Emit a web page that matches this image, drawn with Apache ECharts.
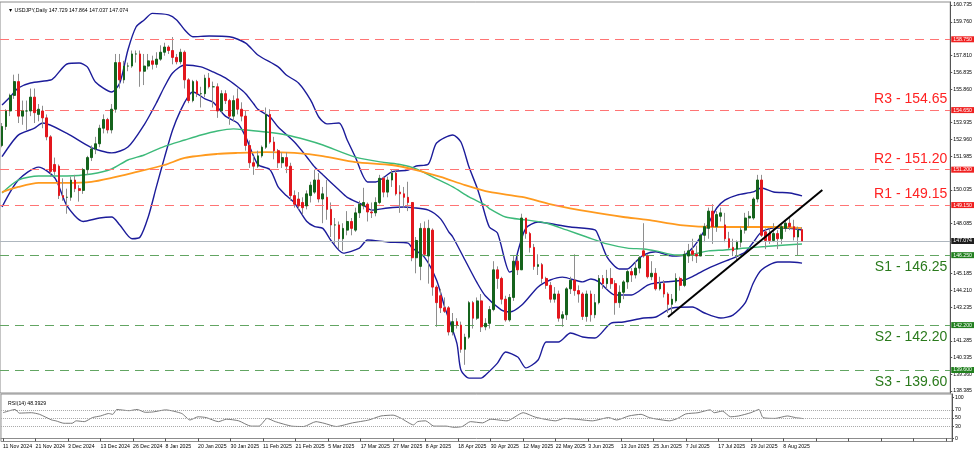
<!DOCTYPE html>
<html><head><meta charset="utf-8">
<script src="https://cdn.jsdelivr.net/npm/echarts@6/dist/echarts.min.js"></script>
<style>html,body{margin:0;padding:0;background:#fff}#c{width:975px;height:452px}</style>
</head><body><div id="c"></div><script>
// ---------- DATA ----------
const firstDay = '2024-11-11';
const holidays = ['2024-12-25', '2025-01-01'];
const barCount = 198;
const slotCount = 234;
// [open, close, low, high]
const ohlc = [
[152.6,153.7,152.5,153.9],[153.7,154.6,153.5,154.7],[154.6,155.5,154.3,155.6],[155.5,156.3,155.3,156.7],[156.3,154.3,153.9,156.75],
[154.3,154.6,153.8,155.2],[154.6,154.6,153.5,155.2],[154.6,155.4,154.3,155.9],[155.4,154.5,153.9,155.9],[154.4,154.7,154.0,155.0],
[154.6,154.2,153.6,154.9],[154.2,153.1,152.9,154.4],[153.1,151.1,150.8,153.2],[151.5,151.1,150.9,151.9],[151.4,149.7,149.5,151.5],
[149.7,149.6,149.4,150.7],[149.6,149.6,148.65,150.1],[149.6,150.6,149.4,150.8],[150.6,150.1,149.9,150.9],[150.1,150.0,149.35,150.3],
[150.0,151.2,149.8,151.3],[151.2,151.9,150.9,152.0],[151.9,152.4,151.7,152.6],[152.4,152.7,152.1,153.1],[152.7,153.6,152.5,153.8],
[153.6,154.1,153.3,154.4],[154.1,153.5,153.3,154.2],[153.5,154.7,153.3,155.0],[154.7,157.4,154.5,157.9],[157.4,156.4,155.9,157.9],
[156.4,157.2,156.2,157.5],[157.2,157.2,156.9,157.4],[157.2,157.9,157.1,158.1],[157.9,157.9,157.4,158.1],[157.9,156.9,156.0,158.1],
[156.9,157.2,156.1,157.9],[157.2,157.5,157.0,157.9],[157.5,157.3,157.0,157.8],[157.3,157.6,157.1,158.0],[157.6,158.0,157.5,158.4],
[158.0,158.3,157.8,158.55],[158.3,158.1,157.9,158.4],[158.1,157.7,157.3,158.88],[157.7,157.45,157.3,157.9],[157.45,158.0,157.3,158.2],
[158.0,156.4,155.9,158.1],[156.4,155.2,155.05,156.5],[155.2,156.3,155.1,156.4],[156.3,155.6,155.4,156.4],[155.6,155.6,154.8,156.0],
[155.6,156.5,155.4,156.7],[156.5,156.0,155.9,156.8],[156.0,156.0,154.8,156.3],[156.0,154.6,154.2,156.2],[154.6,155.6,154.5,155.8],
[155.6,155.2,155.0,155.8],[155.2,154.3,153.8,155.3],[154.3,155.2,154.0,155.5],[155.3,154.7,154.4,155.9],[154.7,154.3,154.0,155.1],
[154.3,152.6,152.3,154.6],[152.6,151.6,151.3,152.9],[151.6,151.4,150.9,152.0],[151.4,152.0,151.3,152.3],[152.0,152.5,151.9,152.6],
[152.5,154.4,152.4,154.8],[154.4,152.8,152.7,154.7],[152.8,152.3,151.8,153.1],[152.3,151.6,151.3,152.4],[151.6,151.9,151.3,152.2],
[151.9,151.4,151.0,152.2],[151.4,149.7,149.4,151.6],[149.7,149.2,149.0,150.0],[149.5,149.1,148.9,149.9],[149.3,149.0,148.6,149.6],
[149.1,149.8,148.9,150.0],[149.7,150.3,149.3,150.5],[149.9,150.6,149.8,151.2],[150.6,149.5,149.3,151.0],[149.5,149.8,148.1,150.2],
[149.6,148.9,148.3,150.6],[148.9,148.0,147.3,149.3],[148.0,148.0,146.9,148.4],[148.0,147.2,146.6,148.2],[147.2,147.8,146.5,148.1],
[147.7,148.2,147.4,148.8],[148.2,147.8,147.4,148.4],[147.7,148.7,147.6,149.0],[148.7,149.2,148.4,149.4],[149.1,149.3,148.9,150.15],
[149.2,148.75,148.2,149.3],[148.75,148.7,148.4,149.3],[148.7,149.3,148.5,149.6],[149.3,150.7,149.2,150.9],[150.7,149.9,149.6,150.8],
[149.9,150.6,149.6,150.8],[150.6,151.0,150.2,151.2],[151.0,149.8,149.7,151.2],[149.9,149.8,148.7,150.3],[149.8,149.6,149.0,150.2],
[149.6,149.3,148.8,150.5],[149.3,146.1,145.9,149.3],[146.1,147.1,145.2,147.3],[145.6,147.8,144.8,148.1],[147.8,146.3,146.2,148.2],
[146.2,147.8,144.6,148.3],[147.7,144.4,143.9,147.8],[144.4,143.5,142.1,144.5],[143.9,143.2,142.9,144.3],[143.2,143.0,142.9,143.8],
[143.2,141.8,141.6,143.3],[141.8,142.4,141.6,142.9],[142.4,142.2,142.0,142.6],[142.2,140.8,140.6,142.4],[140.8,141.5,139.9,141.7],
[141.5,143.5,141.4,143.6],[143.5,142.6,142.0,143.6],[142.6,143.6,142.5,143.8],[143.6,142.1,141.8,144.0],[142.1,142.3,141.9,142.6],
[142.3,143.1,142.0,143.3],[143.1,145.4,143.0,145.9],[145.4,144.9,144.3,145.6],[144.9,143.7,143.4,145.0],[143.7,142.5,142.4,143.9],
[142.5,143.8,142.4,144.0],[143.8,145.9,143.6,146.2],[145.9,145.4,145.1,146.2],[145.4,148.4,145.4,148.65],[148.4,147.5,147.2,148.4],
[147.5,146.7,146.4,147.6],[146.7,145.6,145.4,146.9],[145.6,145.7,145.1,146.3],[145.7,144.9,144.6,145.8],[144.9,144.5,144.3,145.0],
[144.5,143.7,143.5,144.7],[143.7,144.0,143.5,144.4],[144.0,142.6,142.4,144.2],[142.6,142.8,142.1,143.0],[142.8,144.3,142.5,144.4],
[144.3,144.8,144.0,145.0],[144.8,144.2,143.9,146.3],[144.2,144.0,143.5,144.5],[144.0,142.7,142.5,144.1],[142.7,144.0,142.4,144.2],
[144.0,142.8,142.4,144.2],[142.8,143.5,142.6,144.0],[143.5,144.9,143.4,145.1],[144.9,144.6,144.3,145.1],[144.6,144.9,144.3,145.4],
[144.9,144.6,144.3,145.5],[144.6,143.5,142.8,144.8],[143.5,144.1,143.2,144.5],[144.1,144.7,143.7,144.8],[144.7,145.3,144.3,145.4],
[145.3,145.1,144.7,145.5],[145.1,145.5,144.9,145.9],[145.5,146.1,145.2,146.2],[146.5,146.2,146.1,148.1],[146.2,145.0,144.9,146.3],
[145.0,145.2,144.8,145.9],[145.2,144.3,144.2,145.5],[144.3,144.6,144.2,145.0],[144.6,144.0,143.8,144.8],[144.0,143.4,142.9,144.1],
[143.4,143.7,142.9,144.0],[143.6,144.9,143.5,145.2],[144.9,144.5,144.2,145.0],[144.5,146.3,144.4,146.5],[146.2,146.5,145.8,146.9],
[146.5,146.3,145.9,147.2],[146.3,146.2,145.8,146.8],[146.2,147.4,146.2,147.5],[147.4,147.9,147.0,148.1],[147.8,148.8,147.2,149.0],
[148.8,147.9,146.9,149.2],[147.9,148.6,147.6,148.8],[148.5,148.7,148.2,149.0],[148.0,147.2,147.0,148.7],[147.2,146.7,146.6,147.6],
[146.7,146.5,146.2,147.2],[146.6,147.0,145.9,147.1],[147.0,147.7,146.7,147.9],[147.7,148.4,147.5,148.7],[148.4,148.5,147.9,148.8],
[148.4,149.5,148.3,149.6],[149.5,150.6,149.3,150.9],[150.6,147.4,147.3,150.9],[147.6,147.1,146.6,147.8],[147.5,147.1,146.9,147.8],
[147.1,147.5,147.0,148.1],[147.5,147.2,146.6,147.7],[147.2,147.9,146.9,148.0],[147.8,148.1,147.6,148.3],[148.1,147.9,147.7,148.5],
[147.9,147.3,147.1,148.3],[147.3,147.7,146.2,147.9],[147.729,147.074,147.037,147.864]
];
const bbUpper = [[0,154.94],[2,155.41],[4,155.93],[7,156.22],[12,156.39],[13,156.57],[16,157.32],[19,157.38],[21,157.15],[23,156.28],[27,155.70],[29,156.22],[31,158.13],[33,159.46],[35,159.87],[37,160.25],[41,160.16],[43,159.87],[45,159.29],[47,158.90],[51,158.94],[56,158.90],[60,158.53],[63,157.84],[68,157.15],[70,156.68],[73,156.22],[76,155.23],[78,154.25],[80,153.85],[83,153.90],[85,152.92],[87,151.93],[90,150.49],[92,150.49],[96,151.07],[100,151.18],[102,151.41],[105,151.53],[107,152.74],[111,153.21],[113,152.80],[115,151.35],[117,150.14],[118,149.40],[120,147.88],[122,147.53],[125,145.27],[126,145.39],[127,146.43],[129,147.82],[132,148.17],[134,148.11],[140,147.88],[146,147.71],[147,147.30],[149,146.14],[152,145.45],[154,145.45],[156,145.85],[158,146.26],[161,146.45],[165,146.20],[168,146.26],[170,146.66],[172,147.30],[174,148.10],[176,148.98],[178,149.44],[181,149.73],[185,149.91],[187,150.14],[190,149.91],[194,149.85],[197,149.68]];
const bbMiddle = [[0,151.95],[4,153.2],[8,153.6],[10,153.9],[16,153.3],[22,152.48],[27,152.17],[31,152.51],[35,153.8],[38,155.06],[40,156.0],[42,156.8],[45,157.26],[49,157.15],[52,156.86],[55,156.51],[58,156.0],[60,155.6],[62,155.0],[63,154.7],[66,154.25],[68,153.67],[72,152.8],[75,151.95],[77,151.35],[79,150.9],[83,150.02],[85,149.6],[89,149.15],[91,148.86],[95,148.98],[99,149.04],[101,149.0],[105,148.86],[108,148.35],[110,147.6],[111,147.3],[114,145.97],[117,144.64],[119,143.9],[123,143.07],[125,142.96],[128,143.36],[132,144.41],[135,144.81],[138,144.98],[143,144.7],[145,144.87],[147,144.7],[151,143.94],[155,143.94],[159,144.52],[161,144.64],[168,144.81],[170,145.0],[173,145.39],[177,145.8],[180,146.08],[183,146.43],[185,147.0],[187,147.59],[190,147.82],[193,147.82],[197,147.71]];
const bbLower = [[0,149.04],[4,150.6],[9,151.35],[13,150.72],[16,149.1],[20,148.2],[24,148.4],[27,148.46],[29,148.0],[32,147.2],[34,147.3],[36,148.46],[38,150.2],[40,151.9],[42,153.5],[44,154.65],[46,155.5],[47,155.7],[50,155.3],[52,155.1],[55,154.3],[58,153.9],[60,153.1],[63,151.5],[66,151.2],[68,150.2],[70,149.7],[72,149.28],[75,148.21],[77,147.9],[79,147.8],[81,147.1],[84,146.37],[88,146.66],[90,147.13],[95,147.01],[100,146.95],[101,146.66],[104,146.14],[107,144.81],[109,143.25],[112,141.16],[113,139.6],[115,139.13],[118,139.13],[119,139.3],[122,140.0],[124,140.64],[127,140.35],[129,139.72],[132,140.18],[134,141.22],[137,141.22],[140,141.74],[143,141.51],[146,141.45],[150,142.32],[153,142.38],[158,142.61],[161,142.67],[165,143.19],[170,143.25],[173,142.9],[177,142.61],[180,142.78],[183,143.48],[185,144.64],[187,145.39],[191,145.85],[194,145.85],[197,145.79]];
const maGreen = [[0,149.85],[4,150.6],[9,150.83],[16,150.83],[22,150.95],[27,151.24],[31,151.76],[35,152.05],[40,152.55],[45,152.92],[49,153.21],[53,153.44],[57,153.56],[60,153.5],[65,153.38],[70,153.21],[75,152.92],[79,152.63],[87,151.93],[94,151.62],[98,151.5],[102,151.25],[106,150.78],[111,150.2],[115,149.62],[119,149.15],[120,148.95],[124,148.46],[129,148.29],[134,148.11],[139,147.71],[144,147.3],[149,146.9],[154,146.66],[158,146.61],[161,146.5],[166,146.26],[170,146.3],[174,146.5],[178,146.55],[184,146.68],[188,146.75],[193,146.84],[197,146.9]];
const maOrange = [[0,149.9],[4,150.2],[9,150.43],[16,150.43],[22,150.49],[27,150.72],[32,151.0],[40,151.47],[45,151.88],[53,152.11],[58,152.17],[65,152.22],[72,152.17],[79,151.99],[87,151.64],[96,151.47],[102,151.18],[108,150.78],[114,150.31],[120,149.91],[128,149.62],[136,149.15],[145,148.75],[153,148.46],[159,148.29],[167,147.99],[176,147.88],[181,147.88],[190,147.88],[197,147.82]];
const rsi = [[0,63],[3,71],[4,62],[7,63],[9,59],[12,45],[13,43],[15,37],[17,37],[18,43],[20,41],[22,51],[24,55],[26,61],[27,59],[28,71],[31,68],[33,71],[35,64],[37,65],[40,70],[44,61],[46,45],[48,53],[50,51],[53,41],[55,47],[58,43],[61,30],[63,30],[65,49],[67,41],[71,30],[74,29],[77,41],[79,37],[82,29],[86,38],[90,45],[93,55],[96,57],[98,49],[101,33],[102,41],[104,43],[106,30],[109,30],[111,27],[113,29],[115,41],[118,38],[120,47],[124,43],[128,63],[131,52],[136,43],[138,49],[141,47],[145,43],[149,51],[151,45],[154,55],[157,59],[159,51],[161,47],[164,43],[166,49],[168,60],[171,63],[174,70],[175,63],[177,67],[179,53],[181,55],[184,63],[186,71],[187,51],[190,49],[193,55],[195,51],[197,48.4]];
const trendLine = [[164,142.67],[202,150.02]];
const priceTicks = [160.735,159.760,157.810,156.835,155.860,153.935,152.960,151.985,150.035,148.085,145.185,144.210,143.235,141.285,140.335,139.360,138.385];
const rsiTicks = [0,30,50,70,100];
const rsiLevels = [70,50,30];
const resistNames = ['R3','R2','R1'];
const resistValues = [154.65,151.20,149.15];
const supportNames = ['S1','S2','S3'];
const supportValues = [146.25,142.20,139.60];
const extraResist = 158.75;
const lastPrice = 147.074;
const headerQuote = ['147.729','147.864','147.037','147.074'];
const rsiLast = '48.3929';

// ---------- CATEGORIES ----------
const MON = ['Jan','Feb','Mar','Apr','May','Jun','Jul','Aug','Sep','Oct','Nov','Dec'];
function buildDates() {
  const out = [];
  const d = new Date(firstDay + 'T12:00:00Z');
  while (out.length < barCount) {
    const iso = d.toISOString().slice(0, 10);
    const wd = d.getUTCDay();
    if (wd !== 0 && wd !== 6 && holidays.indexOf(iso) < 0) {
      out.push(d.getUTCDate() + ' ' + MON[d.getUTCMonth()] + ' ' + d.getUTCFullYear());
    }
    d.setUTCDate(d.getUTCDate() + 1);
  }
  return out;
}
const dates = buildDates();
const cats = dates.concat(new Array(slotCount - barCount).fill(''));

// ---------- STYLE ----------
const BULL = '#15631c', BEAR = '#e3171d', WICK = '#8e8e8e', BAND = '#1c1c9a';
const RED_LINE = '#ff7474', GREEN_LINE = '#62a562', RED_TXT = '#ff2222', GREEN_TXT = '#2a7a1c';
const FONT = 'Liberation Sans, Arial, sans-serif';
const SMALL = 5.2;

const levelMarks = [];
resistNames.forEach((n, k) => levelMarks.push({
  yAxis: resistValues[k], lineStyle: {color: RED_LINE, type: [9, 6], width: 1},
  label: {show: true, position: 'insideEndTop', formatter: n + ' - ' + resistValues[k].toFixed(2),
          color: RED_TXT, fontSize: 14, fontFamily: FONT, distance: [3, 4]}
}));
supportNames.forEach((n, k) => levelMarks.push({
  yAxis: supportValues[k], lineStyle: {color: GREEN_LINE, type: [9, 6], width: 1},
  label: {show: true, position: 'insideEndBottom', formatter: n + ' - ' + supportValues[k].toFixed(2),
          color: GREEN_TXT, fontSize: 14, fontFamily: FONT, distance: [3, 5]}
}));
levelMarks.push({yAxis: extraResist, lineStyle: {color: RED_LINE, type: [9, 6], width: 1}, label: {show: false}});
levelMarks.push({yAxis: lastPrice, lineStyle: {color: '#aeb6be', type: 'solid', width: 1}, label: {show: false}});

const boxMarks = [];
function box(v, bg) {
  boxMarks.push({yAxis: v, lineStyle: {color: 'rgba(255,255,255,0)', width: 1},
    label: {show: true, position: 'end', formatter: v.toFixed(3), opacity: 1,
      backgroundColor: bg, color: '#fff', fontSize: SMALL, fontFamily: FONT, padding: [1, 2, 0, 2], distance: 1}});
}
[extraResist].concat(resistValues).forEach(v => box(v, '#f02020'));
supportValues.forEach(v => box(v, '#22801f'));
box(lastPrice, '#1e1e1e');

const lineBase = {type: 'line', xAxisIndex: 0, yAxisIndex: 0, symbol: 'none', smooth: 0.25, silent: true, z: 3};

const option = {
  animation: false,
  backgroundColor: '#fff',
  title: [
    {text: '\u25BC USDJPY,Daily 147.729 147.864 147.037 147.074'.replace('147.729 147.864 147.037 147.074', headerQuote.join(' ')),
     left: 3, top: 3, textStyle: {fontSize: SMALL, fontWeight: 'normal', color: '#000', fontFamily: FONT}},
    {text: 'RSI(14) ' + rsiLast, left: 3, top: 396.5,
     textStyle: {fontSize: SMALL, fontWeight: 'normal', color: '#000', fontFamily: FONT}}
  ],
  grid: [
    {left: 0, top: 2, width: 952, height: 391, show: true, borderColor: '#8c8c8c', borderWidth: 1},
    {left: 0, top: 394, width: 952, height: 47.5, show: true, borderColor: '#8c8c8c', borderWidth: 1}
  ],
  xAxis: [
    {type: 'category', gridIndex: 0, data: cats, boundaryGap: true,
     axisLine: {show: false}, axisTick: {show: false}, axisLabel: {show: false}, splitLine: {show: false}},
    {type: 'category', gridIndex: 1, data: cats, boundaryGap: true,
     axisLine: {lineStyle: {color: '#8c8c8c'}},
     axisTick: {show: true, interval: 7, alignWithLabel: true, length: 3, lineStyle: {color: '#555'}},
     axisLabel: {interval: 7, showMinLabel: true, align: 'left', fontSize: SMALL, margin: 2.5, color: '#000', fontFamily: FONT},
     splitLine: {show: false}}
  ],
  yAxis: [
    {type: 'value', gridIndex: 0, position: 'right', min: 138.268, max: 160.909, scale: true,
     axisLine: {show: true, lineStyle: {color: '#555'}},
     axisTick: {show: true, length: 2, customValues: priceTicks, lineStyle: {color: '#555'}},
     axisLabel: {customValues: priceTicks, formatter: v => v.toFixed(3), fontSize: SMALL, margin: 3, color: '#000', fontFamily: FONT},
     splitLine: {show: false}},
    {type: 'value', gridIndex: 1, position: 'right', min: -7.9, max: 109.1,
     axisLine: {show: true, lineStyle: {color: '#555'}},
     axisTick: {show: true, length: 2, customValues: rsiTicks, lineStyle: {color: '#555'}},
     axisLabel: {customValues: rsiTicks, fontSize: SMALL, margin: 3, color: '#000', fontFamily: FONT},
     splitLine: {show: false}}
  ],
  series: [
    {type: 'candlestick', name: 'wicks', xAxisIndex: 0, yAxisIndex: 0, data: ohlc, barWidth: 1, silent: true, z: 4,
     itemStyle: {color: WICK, color0: WICK, borderColor: WICK, borderColor0: WICK, borderWidth: 1}},
    {type: 'candlestick', name: 'bodies', xAxisIndex: 0, yAxisIndex: 0, barWidth: 2.2, silent: true, z: 5,
     data: ohlc.map(r => [r[0], r[1], Math.min(r[0], r[1]), Math.max(r[0], r[1])]),
     itemStyle: {color: BULL, color0: BEAR, borderColor: BULL, borderColor0: BEAR, borderWidth: 1}},
    Object.assign({}, lineBase, {name: 'bbU', data: bbUpper, lineStyle: {color: BAND, width: 1.4}}),
    Object.assign({}, lineBase, {name: 'bbM', data: bbMiddle, lineStyle: {color: BAND, width: 1.4}}),
    Object.assign({}, lineBase, {name: 'bbL', data: bbLower, lineStyle: {color: BAND, width: 1.4}}),
    Object.assign({}, lineBase, {name: 'ma100', data: maGreen, lineStyle: {color: '#3dba7a', width: 1.4}}),
    Object.assign({}, lineBase, {name: 'ma200', data: maOrange, lineStyle: {color: '#ff9a1e', width: 1.8}}),
    Object.assign({}, lineBase, {name: 'trend', data: trendLine, smooth: false, z: 6, lineStyle: {color: '#000', width: 2},
      markLine: {symbol: 'none', silent: true, animation: false, data: levelMarks}}),
    Object.assign({}, lineBase, {name: 'boxes', data: trendLine, smooth: false, z: 10, lineStyle: {opacity: 0},
      markLine: {symbol: 'none', silent: true, animation: false, z: 10, data: boxMarks}}),
    {type: 'line', name: 'rsi', xAxisIndex: 1, yAxisIndex: 1, data: rsi, symbol: 'none', smooth: 0.2, silent: true,
     lineStyle: {color: '#7a7a7a', width: 1},
     markLine: {symbol: 'none', silent: true, animation: false, label: {show: false},
       lineStyle: {color: '#a8a8a8', type: 'dotted', width: 1},
       data: rsiLevels.map(v => ({yAxis: v}))}}
  ]
};
const chart = echarts.init(document.getElementById('c'), null, {renderer: 'canvas'});
chart.setOption(option);
</script></body></html>
